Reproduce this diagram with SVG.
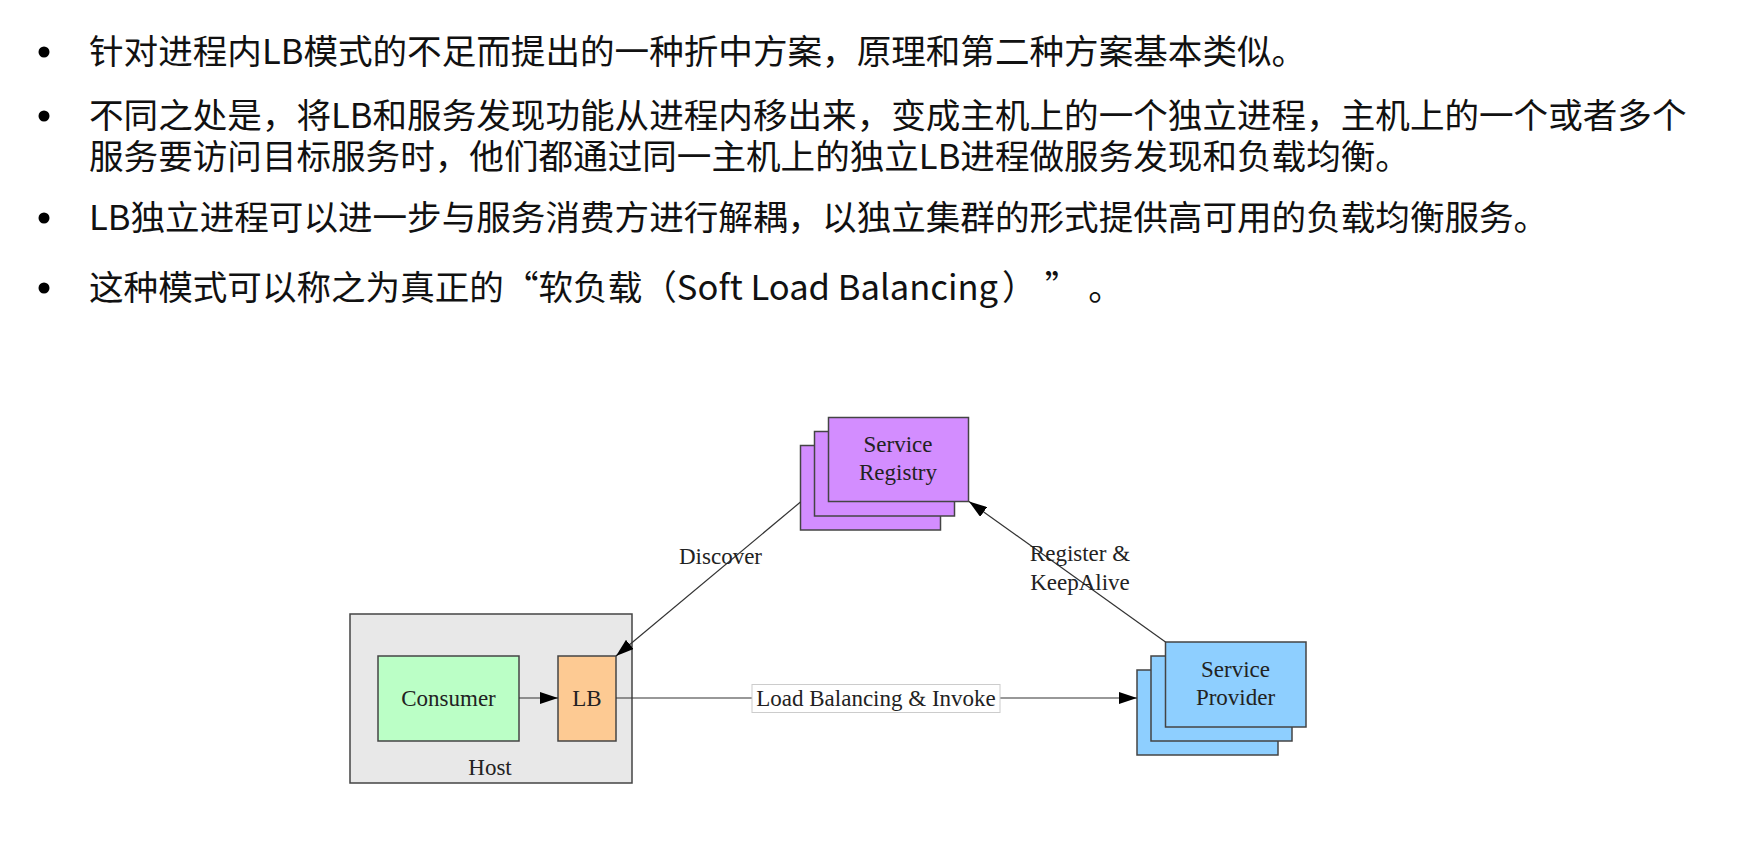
<svg xmlns="http://www.w3.org/2000/svg" width="1737" height="847" viewBox="0 0 1737 847">
<style>
.bt{font-family:"Noto Sans CJK SC","Noto Sans",sans-serif;font-size:34.6px;fill:#111;text-spacing-trim:space-all}
.lb{font-family:"Liberation Serif","Times New Roman",serif;font-size:23px;fill:#222;text-anchor:middle}
.edge{stroke:#333;stroke-width:1.2;fill:none}
.box{stroke:#444;stroke-width:1.5}
.reg{fill:#d38dff}
.prov{fill:#8ecfff}
</style>
<defs>
<marker id="ah" viewBox="0 0 18 12" refX="18" refY="6" markerWidth="18" markerHeight="12" markerUnits="userSpaceOnUse" orient="auto">
<path d="M0,0 L18,6 L0,12 Z" fill="#000"/>
</marker>
</defs>
<rect width="1737" height="847" fill="#fff"/>
<g id="bullets">
<circle cx="44" cy="52" r="5.5" fill="#000"/>
<circle cx="44" cy="116" r="5.5" fill="#000"/>
<circle cx="44" cy="218" r="5.5" fill="#000"/>
<circle cx="44" cy="288" r="5.5" fill="#000"/>
<text class="bt" x="89" y="64">针对进程内LB模式的不足而提出的一种折中方案，原理和第二种方案基本类似。</text>
<text class="bt" x="89" y="128">不同之处是，将LB和服务发现功能从进程内移出来，变成主机上的一个独立进程，主机上的一个或者多个</text>
<text class="bt" x="89" y="169">服务要访问目标服务时，他们都通过同一主机上的独立LB进程做服务发现和负载均衡。</text>
<text class="bt" x="89" y="230">LB独立进程可以进一步与服务消费方进行解耦，以独立集群的形式提供高可用的负载均衡服务。</text>
<text class="bt" x="89" y="300">这种模式可以称之为真正的“软负载（Soft Load Balancing<tspan dx="4">）</tspan><tspan dx="8">”</tspan><tspan dx="9">。</tspan></text>
</g>
<g id="host">
<rect class="box" x="350" y="614" width="282" height="169" fill="#e8e8e8" stroke="#666"/>
<text class="lb" x="490" y="775">Host</text>
</g>
<g id="consumer">
<rect class="box" x="378" y="656" width="141" height="85" fill="#bbffc6"/>
<text class="lb" x="448.5" y="706">Consumer</text>
</g>
<g id="lb">
<rect class="box" x="558" y="656" width="58" height="85" fill="#fdca93"/>
<text class="lb" x="587" y="706">LB</text>
</g>
<g id="registry">
<rect class="box reg" x="800.5" y="445.5" width="140" height="84.5"/>
<rect class="box reg" x="814.5" y="431.5" width="140" height="84.5"/>
<rect class="box reg" x="828.5" y="417.5" width="140" height="84"/>
<text class="lb" x="898" y="452">Service</text>
<text class="lb" x="898" y="480">Registry</text>
</g>
<g id="provider">
<rect class="box prov" x="1137" y="670" width="141" height="85"/>
<rect class="box prov" x="1151" y="656" width="141" height="85"/>
<rect class="box prov" x="1165.5" y="642" width="140.5" height="85"/>
<text class="lb" x="1235.5" y="677">Service</text>
<text class="lb" x="1235.5" y="705">Provider</text>
</g>
<g id="connectors">
<line class="edge" x1="519" y1="698" x2="558" y2="698" marker-end="url(#ah)"/>
<line class="edge" x1="800.5" y1="502" x2="616" y2="656" marker-end="url(#ah)"/>
<line class="edge" x1="1165.5" y1="642" x2="969" y2="501.5" marker-end="url(#ah)"/>
<line class="edge" x1="616" y1="698" x2="1137" y2="698" marker-end="url(#ah)"/>
<text class="lb" x="720.5" y="564">Discover</text>
<text class="lb" x="1080" y="561">Register &amp;</text>
<text class="lb" x="1080" y="590">KeepAlive</text>
<rect x="752" y="684.5" width="248" height="28" fill="#fff" stroke="#ccc" stroke-width="1"/>
<text class="lb" x="876" y="706">Load Balancing &amp; Invoke</text>
</g>
</svg>
